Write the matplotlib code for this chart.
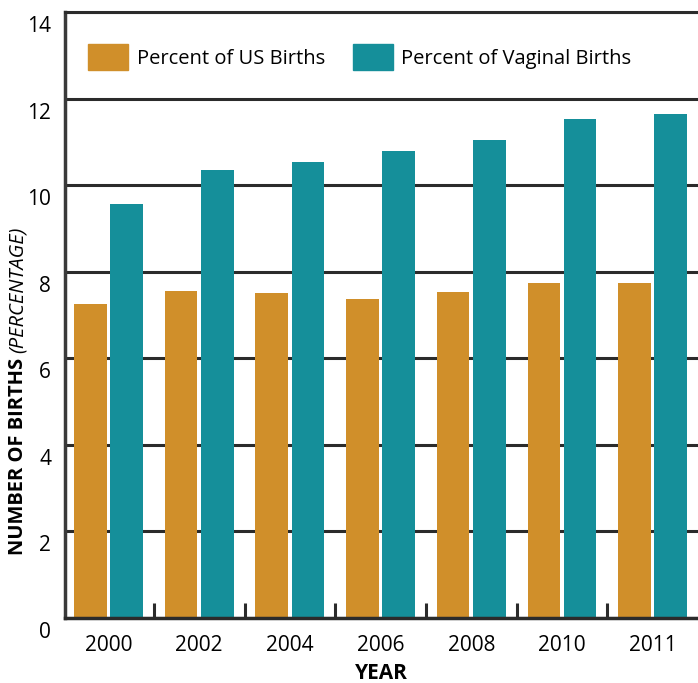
import numpy as np
import matplotlib
matplotlib.use("Agg")
import matplotlib.pyplot as plt
from matplotlib.patches import Patch
from matplotlib.transforms import ScaledTranslation

plt.rcParams['font.family'] = ['Open Sans', 'DejaVu Sans']

years = ['2000', '2002', '2004', '2006', '2008', '2010', '2011']
us_births = [7.25, 7.55, 7.51, 7.37, 7.52, 7.74, 7.74]
vaginal_births = [9.56, 10.35, 10.53, 10.79, 11.04, 11.52, 11.64]
labels = ['Percent of US Births', 'Percent of Vaginal Births']

orange = '#d08f2a'
teal = '#158f9a'
dark = '#2b2b2b'

fig = plt.figure(figsize=(6.98, 6.83), dpi=100)
ax = fig.add_axes([65 / 698, 1 - 618 / 683, 1 - 65 / 698, (618 - 12) / 683])

x = np.arange(len(years))
w = 0.36
ax.bar(x - 0.2, us_births, w, color=orange, zorder=3)
ax.bar(x + 0.2, vaginal_births, w, color=teal, zorder=3)

ax.set_xlim(-0.48, 6.5)
ax.set_ylim(0, 14)
ax.set_yticks(np.arange(0, 15, 2))
ax.yaxis.grid(True, color=dark, lw=2.2, zorder=1)
ax.set_axisbelow(True)

ax.spines['right'].set_visible(False)
ax.spines['top'].set_color(dark)
ax.spines['top'].set_linewidth(2.2)
ax.spines['left'].set_color('#3a3a3a')
ax.spines['left'].set_linewidth(2.5)
ax.spines['bottom'].set_color(dark)
ax.spines['bottom'].set_linewidth(2.5)
ax.spines['bottom'].set_zorder(4)

ax.set_xticks(x)
ax.set_xticklabels(years, fontsize=15)
ax.set_xticks(x[:-1] + 0.5, minor=True)
ax.tick_params(axis='x', which='major', length=0, pad=12)
ax.tick_params(axis='x', which='minor', direction='in', length=11, width=2.2, color=dark)
ax.tick_params(axis='y', length=0, pad=10, labelsize=15)
for lab in ax.get_yticklabels():
    lab.set_transform(lab.get_transform() + ScaledTranslation(0, -0.12, fig.dpi_scale_trans))

ax.set_xlabel('YEAR', fontsize=15, fontweight='bold', labelpad=5)

handles = [Patch(color=orange), Patch(color=teal)]
ax.legend(handles, labels, loc='upper left', bbox_to_anchor=(0.008, 0.977), ncol=2,
          frameon=False, fontsize=14.5, handlelength=2.0, handleheight=1.6,
          handletextpad=0.4, columnspacing=1.4)

# y label: bold part + italic part
t1 = fig.text(0.026, 128 / 683, 'NUMBER OF BIRTHS ', rotation=90, fontsize=14.5,
              fontweight='bold', ha='center', va='bottom')
fig.canvas.draw()
bb = t1.get_window_extent()
fig.text(0.026, bb.y1 / fig.bbox.height, '(PERCENTAGE)', rotation=90, fontsize=14.5,
         fontstyle='italic', ha='center', va='bottom')

fig.savefig('out.png', dpi=100)
